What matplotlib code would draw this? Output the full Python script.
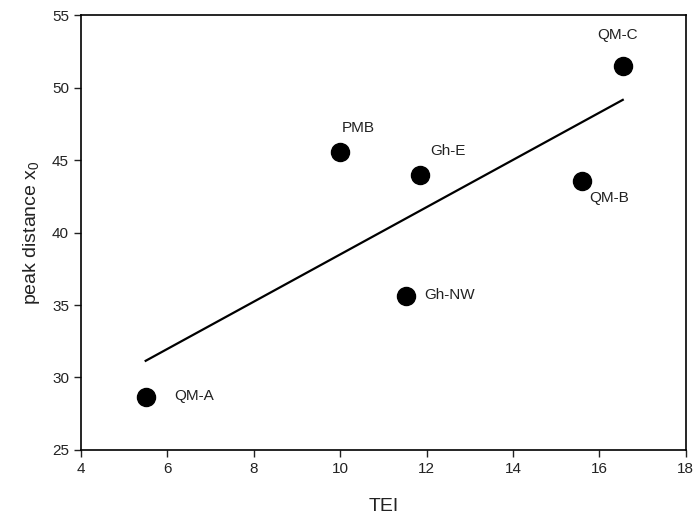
import numpy as np
import matplotlib
matplotlib.use("Agg")
import matplotlib.pyplot as plt

plt.rcParams['font.family'] = ['Liberation Sans', 'DejaVu Sans']

sites = ["QM-A", "PMB", "Gh-E", "Gh-NW", "QM-B", "QM-C"]
tei = [5.50, 10.00, 11.84, 11.53, 15.60, 16.54]
peak = [28.68, 45.57, 43.97, 35.62, 43.57, 51.48]
label_offsets = {"QM-A": (48, 1), "PMB": (18, 24), "Gh-E": (28, 24),
                 "Gh-NW": (43, 1), "QM-B": (27, -17), "QM-C": (-5, 31)}

fig = plt.figure(figsize=(6.97, 5.22), dpi=100)
ax = fig.add_axes([0.116, 0.138, 0.868, 0.833])

slope, intercept = np.polyfit(tei, peak, 1)
xl = np.array([min(tei), max(tei)])
ax.plot(xl, slope * xl + intercept, color='black', lw=1.6)
ax.plot(tei, peak, 'o', color='black', ms=13, ls='none')

for s, x, y in zip(sites, tei, peak):
    ax.annotate(s, (x, y), xytext=label_offsets[s], textcoords='offset pixels',
                ha='center', va='center', fontsize=11, color='#222222')

ax.set_xlim(4, 18)
ax.set_ylim(25, 55)
ax.set_xticks(np.arange(4, 19, 2))
ax.set_yticks(np.arange(25, 56, 5))
ax.tick_params(direction='out', length=5, width=1, labelsize=11, colors='#222222', top=False, right=False)
for sp in ax.spines.values():
    sp.set_linewidth(1.2)
ax.set_xlabel("TEI", fontsize=14, labelpad=16, color='#222222')
ax.set_ylabel("peak distance $\\mathregular{x_0}$", fontsize=14, labelpad=7, color='#222222')

fig.savefig("out.png", dpi=100)
